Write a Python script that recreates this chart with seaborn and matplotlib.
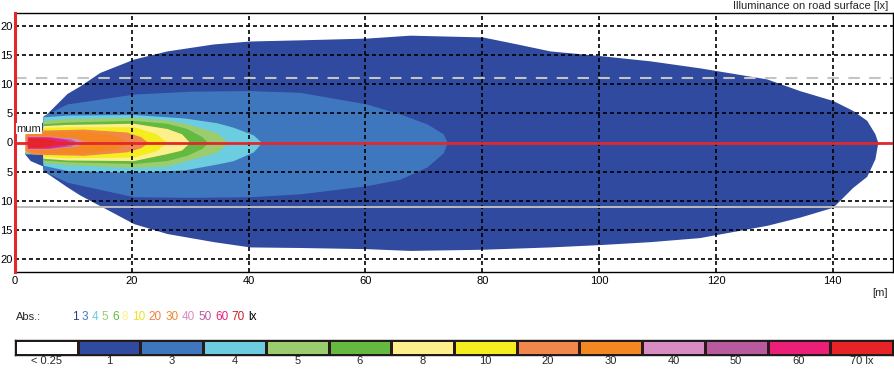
import numpy as np
import matplotlib
matplotlib.use("Agg")
import matplotlib.pyplot as plt
from matplotlib.colors import ListedColormap
import seaborn as sns

# ---------------- data ----------------
legend_labels = ["< 0.25", "1", "3", "4", "5", "6", "8", "10", "20", "30", "40", "50", "60", "70 lx"]
abs_labels = ["1", "3", "4", "5", "6", "8", "10", "20", "30", "40", "50", "60", "70"]
x_ticks = [0, 20, 40, 60, 80, 100, 120, 140]
y_ticks = [-20, -15, -10, -5, 0, 5, 10, 15, 20]
road_edge_dashed = 11.1
road_edge_solid = -11.1

# isolux boundaries: x [m], upper half-width, lower half-width
lx1_x = [1.7, 2.6, 4.7, 4.8, 8.9, 11.1, 14.5, 20.3, 26.0, 34.0, 40.2, 48.8, 60.2, 67.6, 80.0, 85.9,
         91.6, 100.1, 108.7, 117.2, 128.7, 134.3, 140.0, 143.4, 145.8, 147.2, 147.7]
lx1_up = [2.0, 2.5, 3.5, 4.3, 8.4, 9.7, 12.0, 14.3, 15.7, 16.9, 17.4, 17.6, 17.9, 18.4, 18.1, 16.9,
          15.7, 14.9, 14.0, 12.8, 10.9, 8.9, 7.2, 5.5, 3.8, 1.5, 0.0]
lx1_lo = [-2.0, -3.1, -4.0, -4.8, -7.6, -9.0, -10.8, -13.9, -15.6, -17.0, -17.9, -18.0, -18.2, -18.5,
          -18.3, -18.1, -17.9, -17.5, -17.0, -16.3, -14.2, -12.8, -11.1, -7.7, -5.8, -2.8, 0.0]

lx3_x = [1.7, 4.7, 4.8, 8.9, 20.3, 30.0, 40.2, 48.8, 60.2, 65.9, 70.5, 73.3, 74.0]
lx3_up = [1.95, 1.95, 4.6, 6.6, 8.3, 8.8, 8.9, 8.6, 6.6, 4.9, 3.2, 1.5, 0.0]
lx3_lo = [-2.0, -2.0, -4.8, -6.8, -9.3, -9.4, -9.3, -8.8, -7.4, -6.3, -4.2, -1.8, 0.0]

lx4_x = [1.7, 4.7, 4.8, 8.9, 20.3, 29.0, 34.5, 37.4, 40.8, 42.2]
lx4_up = [1.9, 1.9, 4.4, 4.7, 4.8, 4.2, 3.4, 2.6, 1.3, 0.0]
lx4_lo = [-1.9, -2.0, -3.9, -4.8, -5.1, -4.7, -3.7, -3.1, -1.6, 0.0]

lx5_x = [1.7, 4.7, 4.8, 8.9, 20.3, 26.0, 29.4, 34.5, 36.5]
lx5_up = [1.8, 1.8, 3.8, 4.1, 4.3, 3.9, 3.2, 1.7, 0.0]
lx5_lo = [-1.8, -1.9, -3.4, -3.8, -4.3, -4.0, -3.1, -1.7, 0.0]

lx6_x = [1.7, 4.7, 4.8, 8.9, 20.3, 26.0, 29.4, 32.0, 33.0]
lx6_up = [1.7, 1.7, 3.2, 3.5, 3.8, 3.3, 2.4, 1.0, 0.0]
lx6_lo = [-1.7, -1.8, -3.0, -3.3, -3.6, -3.1, -2.2, -1.0, 0.0]

lx8_x = [1.7, 4.7, 4.8, 8.9, 20.3, 26.0, 28.5, 29.9]
lx8_up = [1.6, 1.6, 2.9, 3.1, 3.3, 2.4, 1.5, 0.0]
lx8_lo = [-1.6, -1.7, -2.7, -3.0, -3.1, -1.9, -1.3, 0.0]

lx10_x = [1.7, 4.7, 4.8, 8.9, 20.3, 24.2, 26.0]
lx10_up = [1.5, 1.5, 2.6, 2.7, 2.7, 1.5, 0.0]
lx10_lo = [-1.5, -1.6, -2.4, -2.6, -2.5, -1.4, 0.0]

lx20_x = [1.7, 3.1, 11.7, 19.1, 21.5, 22.8]
lx20_up = [1.4, 2.1, 2.3, 1.8, 1.0, 0.0]
lx20_lo = [-1.4, -2.0, -2.2, -1.6, -0.9, 0.0]

lx30_x = [1.9, 3.5, 11.0, 17.0, 19.5]
lx30_up = [1.2, 1.8, 2.0, 1.3, 0.0]
lx30_lo = [-1.2, -1.7, -1.9, -1.2, 0.0]

lx40_x = [2.0, 6.0, 10.5, 12.2]
lx40_up = [1.1, 1.1, 0.7, 0.0]
lx40_lo = [-1.1, -1.1, -0.6, 0.0]

lx50_x = [2.1, 6.0, 9.5, 10.8]
lx50_up = [1.0, 1.0, 0.6, 0.0]
lx50_lo = [-1.0, -1.0, -0.6, 0.0]

lx60_x = [2.1, 5.5, 8.5, 9.8]
lx60_up = [0.95, 0.95, 0.55, 0.0]
lx60_lo = [-0.95, -0.95, -0.5, 0.0]

lx70_x = [2.2, 4.5, 6.5, 7.4]
lx70_up = [0.75, 0.75, 0.45, 0.0]
lx70_lo = [-0.75, -0.75, -0.45, 0.0]

# ---------------- style ----------------
level_colors = ["#ffffff", "#2f4a9e", "#3f77be", "#6ccce0", "#9bcd6e", "#64b941", "#fdf08c",
                "#f5ed1e", "#f2874b", "#f58723", "#d78cc3", "#b95aa0", "#eb1e78", "#e82328"]
text_colors = ["#2a3f85", "#3f77be", "#6ccce0", "#9bcd6e", "#64b941", "#fdf08c", "#f0e020",
               "#f08040", "#f08a30", "#d78cc3", "#b95aa0", "#eb1e78", "#c8202a"]

sns.set_style("white")
plt.rcParams["font.family"] = ["Liberation Sans", "DejaVu Sans"]

W, H = 895, 369
fig = plt.figure(figsize=(W / 100, H / 100), dpi=100)

ax = fig.add_axes([15 / W, 1 - 272 / H, 878 / W, 259 / H])

regions = [
    (lx1_x, lx1_up, lx1_lo), (lx3_x, lx3_up, lx3_lo), (lx4_x, lx4_up, lx4_lo),
    (lx5_x, lx5_up, lx5_lo), (lx6_x, lx6_up, lx6_lo), (lx8_x, lx8_up, lx8_lo),
    (lx10_x, lx10_up, lx10_lo), (lx20_x, lx20_up, lx20_lo), (lx30_x, lx30_up, lx30_lo),
    (lx40_x, lx40_up, lx40_lo), (lx50_x, lx50_up, lx50_lo), (lx60_x, lx60_up, lx60_lo),
    (lx70_x, lx70_up, lx70_lo),
]
for (xs, up, lo), col in zip(regions, level_colors[1:]):
    ax.fill_between(xs, lo, up, color=col, linewidth=0, zorder=1)

ax.set_xlim(0, 150.3)
ax.set_ylim(-22.2, 22.2)
ax.set_xticks(x_ticks)
ax.set_yticks(y_ticks)
ax.set_xticklabels([str(v) for v in x_ticks])
ax.set_yticklabels([str(abs(v)) for v in y_ticks])
ax.tick_params(axis="both", length=0, labelsize=8, colors="black")
ax.tick_params(axis="y", pad=1.5)
ax.tick_params(axis="x", pad=3)

grid_kw = dict(color="black", lw=1.2, ls=(0, (2.4, 1.8)), zorder=3)
for v in x_ticks[1:]:
    ax.axvline(v, **grid_kw)
for v in y_ticks:
    if v != 0:
        ax.axhline(v, **grid_kw)

ax.axhline(road_edge_dashed, color="#c4c4c4", lw=1.5, ls=(0, (5.5, 4.5)), zorder=3.5)
ax.axhline(road_edge_solid, color="#bdbdbd", lw=1.4, zorder=3.5)
ax.axhline(0, color="#e0282d", lw=2.0, zorder=4)

for s in ["top", "right", "bottom"]:
    ax.spines[s].set_color("black")
    ax.spines[s].set_linewidth(1.0)
ax.spines["left"].set_color("#e0282d")
ax.spines["left"].set_linewidth(2.2)
ax.spines["left"].set_zorder(5)

ax.text(0.25, 2.4, "mum", fontsize=8, ha="left", va="center", zorder=6,
        bbox=dict(facecolor="white", edgecolor="none", pad=0.6))

fig.text(888 / W, 1 - 6 / H, "Illuminance on road surface [lx]", fontsize=8, ha="right", va="center")
fig.text(880 / W, 1 - 293 / H, "[m]", fontsize=8, ha="center", va="center")
fig.text(16 / W, 1 - 317 / H, "Abs.:", fontsize=8, ha="left", va="center")

# coloured level numbers
renderer = fig.canvas.get_renderer()
xpos = 72 / W
for lab, col in zip(abs_labels + ["lx"], text_colors + ["black"]):
    t = fig.text(xpos, 1 - 317 / H, lab, fontsize=8.5, color=col, ha="left", va="center")
    bb = t.get_window_extent(renderer=renderer)
    xpos += (bb.width + 3.4) / W

# legend bar
cax = fig.add_axes([15 / W, 1 - 355 / H, 878 / W, 15 / H])
sns.heatmap(np.arange(len(legend_labels)).reshape(1, -1), ax=cax,
            cmap=ListedColormap(level_colors), cbar=False,
            linewidths=1.0, linecolor="#2a1a1a",
            xticklabels=legend_labels, yticklabels=False)
cax.tick_params(axis="x", length=0, labelsize=8, pad=1, rotation=0)
for s in cax.spines.values():
    s.set_visible(True)
    s.set_color("#1a1a1a")
    s.set_linewidth(1.0)

fig.savefig("out.png", dpi=100)
